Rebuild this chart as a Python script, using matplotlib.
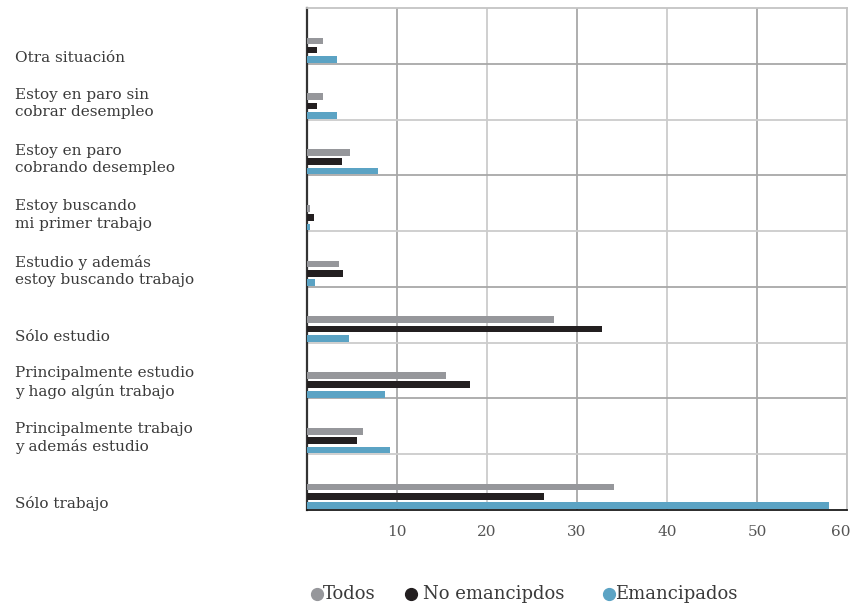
import matplotlib
matplotlib.use("Agg")
import matplotlib.pyplot as plt
import matplotlib.transforms as mtransforms
from matplotlib.lines import Line2D

categories = [
    "Otra situación",
    "Estoy en paro sin\ncobrar desempleo",
    "Estoy en paro\ncobrando desempleo",
    "Estoy buscando\nmi primer trabajo",
    "Estudio y además\nestoy buscando trabajo",
    "Sólo estudio",
    "Principalmente estudio\ny hago algún trabajo",
    "Principalmente trabajo\ny además estudio",
    "Sólo trabajo",
]
todos = [1.8, 1.8, 4.8, 0.3, 3.6, 27.4, 15.4, 6.2, 34.1]
no_emancipados = [1.1, 1.1, 3.9, 0.8, 4.0, 32.8, 18.1, 5.6, 26.3]
emancipados = [3.3, 3.3, 7.9, 0.3, 0.9, 4.7, 8.7, 9.2, 58.0]
series_names = ["Todos", "No emancipdos", "Emancipados"]
xticks = [10, 20, 30, 40, 50, 60]

c_gray = "#96979b"
c_black = "#231f20"
c_blue = "#5ba3c4"
txt = "#3a3a3a"

W, H = 854, 606
fig = plt.figure(figsize=(W / 100, H / 100), dpi=100)
ax = fig.add_axes([307 / W, 1 - 510 / H, 540 / W, 502 / H])

n = len(categories)
h = 0.12
for i in range(n):
    bottom = i + 1
    ax.barh(bottom - 0.41, todos[i], height=h, color=c_gray, zorder=3)
    ax.barh(bottom - 0.245, no_emancipados[i], height=h, color=c_black, zorder=3)
    ax.barh(bottom - 0.075, emancipados[i], height=h, color=c_blue, zorder=3)

ax.set_xlim(0, 60)
ax.set_ylim(n, 0)
ax.set_xticks(xticks)
ax.set_xticklabels([str(t) for t in xticks], fontfamily="DejaVu Serif",
                   fontsize=11, color="#555555")
ax.tick_params(axis="x", length=0, pad=11)
ax.set_yticks([])
# keep the last tick label inside the figure
last = ax.get_xticklabels()[-1]
last.set_transform(last.get_transform() +
                   mtransforms.ScaledTranslation(-6 / 100, 0, fig.dpi_scale_trans))

grid_cols = ["#a8a8a8", "#cccccc"]
for k, x in enumerate(xticks):
    ax.axvline(x, color=grid_cols[k % 2], lw=1.3, zorder=1)
for y in range(1, n):
    ax.axhline(y, color=grid_cols[(y + 1) % 2], lw=1.3, zorder=1)

for side in ["top", "right"]:
    ax.spines[side].set_color("#c4c4c4")
    ax.spines[side].set_linewidth(1.3)
ax.spines["left"].set_color("#333333")
ax.spines["left"].set_linewidth(1.6)
ax.spines["bottom"].set_color("#1a1a1a")
ax.spines["bottom"].set_linewidth(1.3)

trans = mtransforms.blended_transform_factory(fig.transFigure, ax.transData)
for i, lab in enumerate(categories):
    two = "\n" in lab
    y = i + 1 - (0.29 if two else 0.11)
    ax.text(15 / W, y, lab, transform=trans, ha="left", va="center",
            fontfamily="DejaVu Serif", fontsize=11, color=txt,
            linespacing=1.3)

# legend drawn manually to match spacing
marker_x = [317, 411, 609]
text_x = [323, 423, 615]
ly = 1 - 594 / H
for mx, tx, c, name in zip(marker_x, text_x, (c_gray, c_black, c_blue), series_names):
    fig.add_artist(Line2D([mx / W], [ly], marker="o", ls="", color=c,
                          markersize=8.5, transform=fig.transFigure))
    fig.text(tx / W, ly, name, ha="left", va="center", fontfamily="DejaVu Serif",
             fontsize=13, color=txt)

fig.savefig("out.png", dpi=100)
